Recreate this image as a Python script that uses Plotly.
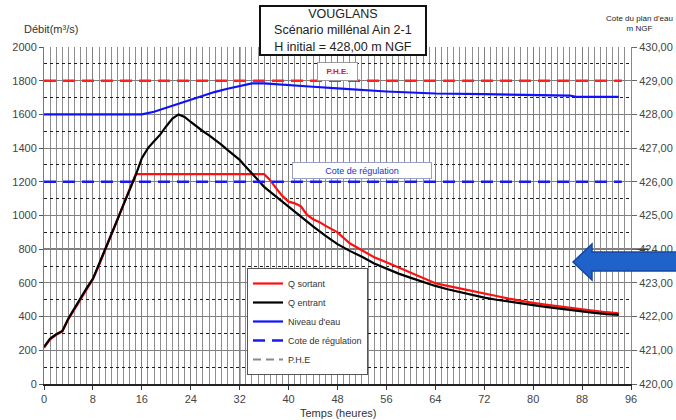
import plotly.graph_objects as go

# ---------------- data ----------------
hours_in = [0, 1, 2, 3, 4, 5, 6, 7, 8, 9, 10, 11, 12, 13, 14, 15, 16, 17, 18, 19, 20,
            21, 22, 23, 24, 25, 26, 27, 28, 29, 30, 31, 32, 33, 34, 35, 36, 37, 38, 39,
            40, 42, 44, 46, 48, 50, 52, 54, 56, 58, 60, 62, 64, 66, 68, 70, 72, 74, 76,
            78, 80, 82, 84, 86, 88, 90, 92, 94]
q_entrant = [220, 270, 295, 315, 390, 450, 515, 570, 625, 710, 800, 890, 975, 1065, 1150,
             1240, 1340, 1400, 1440, 1480, 1530, 1575, 1600, 1585, 1555, 1525, 1500, 1475,
             1450, 1420, 1390, 1360, 1330, 1290, 1250, 1210, 1170, 1140, 1110, 1080, 1050,
             990, 935, 880, 830, 790, 755, 715, 685, 655, 630, 605, 582, 562, 545, 528, 513,
             500, 488, 477, 468, 458, 448, 438, 430, 422, 415, 410]

hours_out = [0, 1, 2, 3, 4, 5, 6, 7, 8, 9, 10, 11, 12, 13, 14, 15, 36, 37, 38, 39, 40, 41,
             42, 43, 44, 45, 46, 47, 48, 50, 52, 54, 56, 58, 60, 62, 64, 66, 68, 70, 72, 74,
             76, 78, 80, 82, 84, 86, 88, 90, 92, 94]
q_sortant = [215, 265, 292, 312, 385, 445, 510, 565, 622, 705, 795, 885, 970, 1060, 1145,
             1245, 1245, 1210, 1160, 1115, 1082, 1072, 1055, 1005, 978, 962, 940, 922, 900,
             835, 795, 752, 722, 692, 662, 630, 598, 582, 566, 552, 538, 522, 507, 492, 481,
             471, 461, 452, 441, 434, 426, 420]

hours_niv = [0, 16, 18, 20, 22, 24, 26, 28, 30, 32, 34, 36, 38, 40, 44, 48, 52, 56, 60, 64,
             72, 80, 86, 87, 94]
niveau = [428.00, 428.00, 428.08, 428.20, 428.33, 428.45, 428.56, 428.67, 428.76, 428.85,
          428.92, 428.92, 428.90, 428.87, 428.82, 428.77, 428.72, 428.68, 428.65, 428.62,
          428.60, 428.58, 428.56, 428.52, 428.52]

cote_regulation = 426.0
phe = 429.0
ref_span = [0, 94.5]

x_ticks = list(range(0, 97, 8))
y_ticks = list(range(0, 2001, 200))
y2_ticks = list(range(420, 431, 1))

title_text = "VOUGLANS<br>Scénario millénal Ain 2-1<br>H initial = 428,00 m NGF"

# ---------------- figure ----------------
FONT = "Liberation Sans, Arial, sans-serif"
fig = go.Figure()

fig.add_trace(go.Scatter(x=hours_out, y=q_sortant, mode="lines", name="Q sortant",
                         line=dict(color="#ff1010", width=2.2)))
fig.add_trace(go.Scatter(x=hours_in, y=q_entrant, mode="lines", name="Q entrant",
                         line=dict(color="#000000", width=2.2)))
fig.add_trace(go.Scatter(x=hours_niv, y=niveau, mode="lines", name="Niveau d'eau",
                         yaxis="y2", line=dict(color="#1010ff", width=2.2)))
fig.add_trace(go.Scatter(x=ref_span, y=[cote_regulation] * 2, mode="lines",
                         name="Cote de régulation", yaxis="y2",
                         line=dict(color="#1a1aee", width=2.5, dash="12px,7px")))
fig.add_trace(go.Scatter(x=ref_span, y=[phe] * 2, mode="lines", showlegend=False,
                         yaxis="y2", line=dict(color="#ff2020", width=2.5, dash="12px,7px")))
fig.add_trace(go.Scatter(x=[None], y=[None], mode="lines", name="P.H.E",
                         line=dict(color="#8a8a8a", width=2, dash="8px,5px")))

L, R, T, B = 44, 45, 47, 36
W, H = 676, 420
PW, PH = W - L - R, H - T - B


def px(xp):
    return (xp - L) / PW


def py(yp):
    return (H - B - yp) / PH


fig.update_layout(
    width=W, height=H,
    margin=dict(l=L, r=R, t=T, b=B, autoexpand=False),
    paper_bgcolor="white", plot_bgcolor="white",
    separators=", ",
    font=dict(family=FONT, size=11, color="#333333"),
    xaxis=dict(range=[0, 96], tickvals=x_ticks, showgrid=True, gridcolor="#808080",
               gridwidth=1, zeroline=False, showline=True, linecolor="#222222",
               linewidth=1.5, ticks="outside", ticklen=4, tickcolor="#333333",
               automargin=False,
               tickfont=dict(size=11, color="#444444"),
               minor=dict(dtick=1, showgrid=True, gridcolor="#8e8e8e", gridwidth=1)),
    xaxis3=dict(range=[0, 96], overlaying="x", anchor="y", dtick=2, tick0=1,
                showgrid=True, gridcolor="#1e1e1e", griddash="dot", gridwidth=1,
                automargin=False,
                showticklabels=False, zeroline=False, showline=False, ticks=""),
    yaxis=dict(range=[0, 2000], tickvals=y_ticks, showgrid=True, gridcolor="#808080",
               gridwidth=1, zeroline=False, showline=True, linecolor="#777777",
               linewidth=1, ticks="outside", ticklen=4, tickcolor="#555555",
               automargin=False,
               tickfont=dict(size=11, color="#444444"),
               minor=dict(dtick=100, showgrid=True, gridcolor="#1e1e1e", griddash="dot",
                          gridwidth=1)),
    yaxis2=dict(range=[420, 430], tickvals=y2_ticks, tickformat=".2f", overlaying="y",
                side="right", showgrid=False, zeroline=False, showline=True,
                linecolor="#888888", ticks="outside", ticklen=5, tickcolor="#666666",
                automargin=False,
                tickfont=dict(size=11, color="#444444")),
    legend=dict(x=px(247), y=py(268), xanchor="left", yanchor="top",
                bgcolor="white", bordercolor="#555555", borderwidth=1,
                font=dict(size=9, color="#333333"), tracegroupgap=0,
                itemwidth=30),
    showlegend=True,
)

# decorative dark grid lines
fig.add_shape(type="line", xref="x", yref="paper", x0=32, x1=32, y0=0, y1=1,
              line=dict(color="#000000", width=1.3), layer="between")
fig.add_shape(type="line", xref="paper", yref="y2", x0=0, x1=1.03, y0=424, y1=424,
              line=dict(color="#000000", width=1.3), layer="between")

# blue arrow
pts = [(573, 262), (592, 244), (592, 252), (690, 252), (690, 271), (592, 271), (592, 280)]
path = "M " + " L ".join(f"{px(a):.4f},{py(b):.4f}" for a, b in pts) + " Z"
fig.add_shape(type="path", xref="paper", yref="paper", path=path,
              fillcolor="#1f62c9", line=dict(color="#1747a0", width=1.5), layer="above")


def note(x, y, text, **kw):
    base = dict(xref="paper", yref="paper", x=px(x), y=py(y), text=text, showarrow=False,
                xanchor="center", yanchor="middle")
    base.update(kw)
    fig.add_annotation(**base)


# title box
note(343, 31, title_text, font=dict(size=12.5, color="#222222", family=FONT),
     bgcolor="white", bordercolor="#111111", borderwidth=2, borderpad=0,
     width=164, align="center")
# P.H.E. box
note(337.5, 71, "<b>P.H.E.</b>", font=dict(size=8, color="#e02020", family=FONT),
     bgcolor="white", bordercolor="#9a9a9a", borderwidth=1, width=37, height=15)
# Cote de régulation box
note(362, 170.5, "Cote de régulation", font=dict(size=9, color="#2233cc", family=FONT),
     bgcolor="white", bordercolor="#9aa0c0", borderwidth=1, width=136, height=13)

# axis titles
note(22, 29, "Débit(m³/s)", xanchor="left", font=dict(size=11, color="#333333"))
note(640, 24, "Cote du plan d'eau<br>m NGF", font=dict(size=8, color="#222222"),
     align="center")
note(338, 413, "Temps (heures)", font=dict(size=11, color="#333333"))

fig.write_html("out.html", config={"displayModeBar": False},
               post_script="document.body.style.margin='0px';document.body.style.padding='0px';")
